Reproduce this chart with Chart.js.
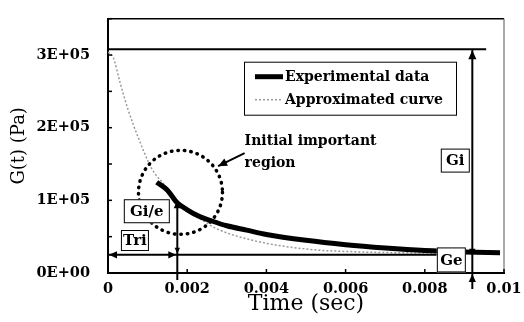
<!DOCTYPE html>
<html>
<head>
<meta charset="utf-8">
<script src="https://cdn.jsdelivr.net/npm/chart.js@4/dist/chart.umd.min.js"></script>
<style>
  html, body { margin: 0; padding: 0; background: #fff; }
  #wrap { width: 524px; height: 322px; }
</style>
</head>
<body>
<div id="wrap"><canvas id="relaxChart"></canvas></div>
<script>
// measured relaxation modulus (thick black)
const expTime = [0.00123, 0.0015, 0.00174, 0.002, 0.0023, 0.0026, 0.003, 0.0035, 0.004, 0.005, 0.006, 0.007, 0.008, 0.009, 0.0099];
const expG = [125000, 114000, 97000, 87000, 78000, 72000, 65000, 59000, 53000, 45000, 39000, 34500, 31000, 29000, 28000];

// approximated curve (grey dotted)
const fitTime = [0, 0.00013, 0.0003, 0.0005, 0.00076, 0.0011, 0.00144, 0.0017, 0.002, 0.0024, 0.00274, 0.00365, 0.005, 0.00635, 0.008, 0.0099];
const fitG = [304000, 297000, 263000, 226000, 187000, 144000, 120000, 99000, 85000, 72000, 61000, 45000, 33000, 29000, 27500, 27000];

const seriesNames = ['Experimental data', 'Approximated curve'];

const xTickLabels = ['0', '0.002', '0.004', '0.006', '0.008', '0.01'];
const yTickLabels = ['0E+00', '1E+05', '2E+05', '3E+05'];

// annotation values (time, modulus)
const giLevel = 308000;
const geLevel = 25000;
const giOverE = 100000;
const triTime = 0.00175;
const giArrowTime = 0.0092;
const giLineEnd = 0.00955;
const geLineEnd = 0.0083;
const regionCenter = [0.00183, 111000];
const regionText = ['Initial important', 'region'];
const regionTextAt = [0.00345, 181000];
const regionArrow = [[0.00345, 165000], [0.00278, 147000]];
const boxLabels = [
    { text: 'Gi/e', t: 0.00098, g: 85000, w: 46, h: 24 },
    { text: 'Tri', t: 0.00068, g: 44700, w: 28, h: 21 },
    { text: 'Gi', t: 0.00877, g: 154700, w: 29, h: 24 },
    { text: 'Ge', t: 0.00867, g: 18000, w: 29, h: 25 }
];

const SERIF = '"DejaVu Serif", serif';

function arrowHead(ctx, x, y, angle, size) {
    ctx.save();
    ctx.translate(x, y);
    ctx.rotate(angle);
    ctx.beginPath();
    ctx.moveTo(0, 0);
    ctx.lineTo(-size, -size * 0.45);
    ctx.lineTo(-size, size * 0.45);
    ctx.closePath();
    ctx.fill();
    ctx.restore();
}

function line(ctx, x1, y1, x2, y2) {
    ctx.beginPath();
    ctx.moveTo(x1, y1);
    ctx.lineTo(x2, y2);
    ctx.stroke();
}

const frameAndNotes = {
    id: 'frameAndNotes',
    afterDatasetsDraw(chart) {
        const { ctx, chartArea: a, scales: { x, y } } = chart;
        ctx.save();
        ctx.strokeStyle = '#000';
        ctx.fillStyle = '#000';

        // frame
        ctx.lineWidth = 1.5;
        line(ctx, a.left, a.top, a.right, a.top);
        ctx.lineWidth = 1;
        ctx.strokeStyle = '#555';
        line(ctx, a.right, a.top, a.right, a.bottom);
        ctx.strokeStyle = '#000';

        // inward ticks
        ctx.lineWidth = 1.5;
        y.ticks.forEach(t => {
            const py = y.getPixelForValue(t.value);
            line(ctx, a.left, py, a.left + 4, py);
        });
        x.ticks.forEach(t => {
            const px = x.getPixelForValue(t.value);
            line(ctx, px, a.bottom, px, a.bottom - 4);
        });

        const x0 = x.getPixelForValue(0);
        const yGi = y.getPixelForValue(giLevel);
        const yGe = y.getPixelForValue(geLevel);
        const yZero = y.getPixelForValue(0);
        const xTri = x.getPixelForValue(triTime);
        const xGi = x.getPixelForValue(giArrowTime);

        // Gi level line
        ctx.lineWidth = 2;
        line(ctx, x0, yGi, x.getPixelForValue(giLineEnd), yGi);
        // Ge level / Tri line
        line(ctx, x0, yGe, x.getPixelForValue(geLineEnd), yGe);
        arrowHead(ctx, x0 + 1, yGe, Math.PI, 8);
        arrowHead(ctx, xTri - 1, yGe, 0, 8);

        // Tri vertical
        ctx.lineWidth = 2;
        const yGie = y.getPixelForValue(giOverE);
        line(ctx, xTri, yGie, xTri, yZero + 7);
        arrowHead(ctx, xTri, yGie, -Math.PI / 2, 8);
        arrowHead(ctx, xTri, yGe - 1, Math.PI / 2, 6);

        // Gi vertical
        line(ctx, xGi, yGi, xGi, yZero + 16);
        arrowHead(ctx, xGi, yGi + 1, -Math.PI / 2, 9);
        arrowHead(ctx, xGi, yGe + 1, Math.PI / 2, 7);
        arrowHead(ctx, xGi, yZero + 1, -Math.PI / 2, 8);

        // dotted circle
        ctx.lineWidth = 3.5;
        ctx.lineCap = 'round';
        ctx.setLineDash([0.5, 6]);
        ctx.beginPath();
        ctx.arc(x.getPixelForValue(regionCenter[0]), y.getPixelForValue(regionCenter[1]), 42, 0, Math.PI * 2);
        ctx.stroke();
        ctx.setLineDash([]);
        ctx.lineCap = 'butt';

        // arrow to circle
        const ax1 = x.getPixelForValue(regionArrow[0][0]), ay1 = y.getPixelForValue(regionArrow[0][1]);
        const ax2 = x.getPixelForValue(regionArrow[1][0]), ay2 = y.getPixelForValue(regionArrow[1][1]);
        ctx.lineWidth = 2;
        line(ctx, ax1, ay1, ax2, ay2);
        arrowHead(ctx, ax2, ay2, Math.atan2(ay2 - ay1, ax2 - ax1), 9);

        // region text
        ctx.font = 'bold 14px ' + SERIF;
        ctx.textBaseline = 'middle';
        ctx.textAlign = 'left';
        const tx = x.getPixelForValue(regionTextAt[0]);
        const ty = y.getPixelForValue(regionTextAt[1]);
        regionText.forEach((s, i) => ctx.fillText(s, tx, ty + i * 22));

        // boxed labels
        ctx.textAlign = 'center';
        boxLabels.forEach(b => {
            const cx = x.getPixelForValue(b.t);
            const cy = y.getPixelForValue(b.g);
            ctx.fillStyle = '#fff';
            ctx.fillRect(cx - b.w / 2, cy - b.h / 2, b.w, b.h);
            ctx.lineWidth = 1;
            ctx.strokeStyle = '#000';
            ctx.strokeRect(cx - b.w / 2 + 0.5, cy - b.h / 2 + 0.5, b.w - 1, b.h - 1);
            ctx.fillStyle = '#000';
            ctx.font = 'bold 15px ' + SERIF;
            ctx.fillText(b.text, cx, cy + 1);
        });

        // legend
        const lx = a.left + 136, ly = a.top + 43, lw = 213, lh = 54;
        ctx.fillStyle = '#fff';
        ctx.fillRect(lx, ly, lw, lh);
        ctx.strokeStyle = '#000';
        ctx.lineWidth = 1;
        ctx.strokeRect(lx + 0.5, ly + 0.5, lw - 1, lh - 1);
        ctx.textAlign = 'left';
        ctx.font = 'bold 14px ' + SERIF;
        chart.data.datasets.forEach((ds, i) => {
            const ry = ly + 15 + i * 23;
            ctx.strokeStyle = ds.borderColor;
            ctx.lineWidth = ds.borderWidth;
            ctx.setLineDash(ds.borderDash || []);
            line(ctx, lx + 11, ry, lx + 39, ry);
            ctx.setLineDash([]);
            ctx.fillStyle = '#000';
            ctx.fillText(ds.label, lx + 41, ry + 1);
        });

        ctx.restore();
    }
};

const ctx = document.getElementById('relaxChart').getContext('2d');
new Chart(ctx, {
    type: 'line',
    data: {
        datasets: [{
            label: seriesNames[0],
            data: expTime.map((t, i) => ({ x: t, y: expG[i] })),
            borderColor: '#000',
            borderWidth: 5,
            pointRadius: 0,
            cubicInterpolationMode: 'monotone',
            fill: false
        }, {
            label: seriesNames[1],
            data: fitTime.map((t, i) => ({ x: t, y: fitG[i] })),
            borderColor: '#9a9a9a',
            borderWidth: 1.5,
            borderDash: [2, 2],
            pointRadius: 0,
            cubicInterpolationMode: 'monotone',
            fill: false
        }]
    },
    options: {
        responsive: true,
        maintainAspectRatio: false,
        animation: false,
        layout: { padding: { top: 11, right: 20, left: 0, bottom: 0 } },
        plugins: { legend: { display: false }, tooltip: { enabled: false } },
        scales: {
            x: {
                type: 'linear',
                min: 0,
                max: 0.01,
                afterFit: s => { s.height = 49; },
                ticks: {
                    stepSize: 0.002,
                    color: '#000',
                    padding: 0,
                    maxRotation: 0,
                    font: { family: SERIF, size: 14.5, weight: 'bold' },
                    callback: (v, i) => xTickLabels[i]
                },
                grid: { display: false },
                border: { display: true, color: '#000', width: 2 },
                title: {
                    display: true,
                    text: 'Time (sec)',
                    color: '#000',
                    font: { family: SERIF, size: 22 },
                    padding: { top: 0, bottom: 5 }
                }
            },
            y: {
                min: 0,
                max: 350000,
                afterFit: s => { s.width = 108; },
                ticks: {
                    stepSize: 50000,
                    color: '#000',
                    padding: 10,
                    font: { family: SERIF, size: 14.5, weight: 'bold' },
                    callback: v => (v % 100000 === 0 ? yTickLabels[v / 100000] : '')
                },
                grid: { display: false },
                border: { display: true, color: '#000', width: 2 },
                title: {
                    display: true,
                    text: 'G(t) (Pa)',
                    color: '#000',
                    font: { family: SERIF, size: 18 },
                    padding: { top: 9, bottom: 0 }
                }
            }
        }
    },
    plugins: [frameAndNotes]
});
</script>
</body>
</html>
